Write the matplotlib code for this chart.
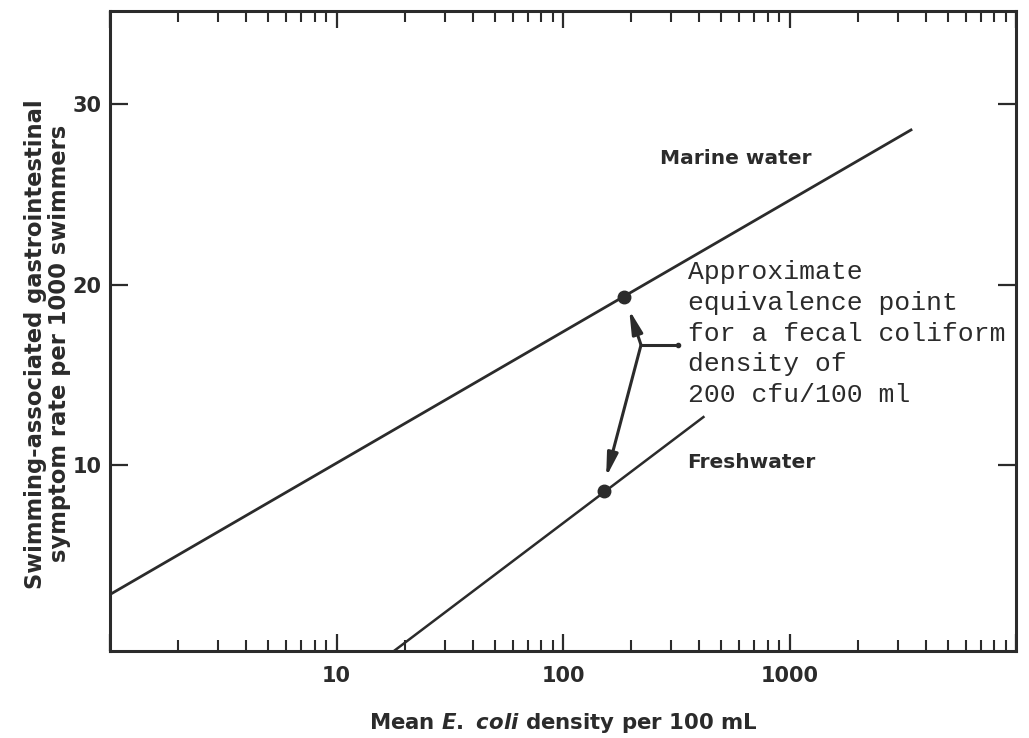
import numpy as np
import matplotlib.pyplot as plt
from matplotlib.ticker import LogLocator, NullFormatter, FixedLocator

# lines (E. coli per 100 mL, symptoms per 1000 swimmers)
marine_x = [1.0, 3480.0]
marine_y = [2.83, 28.6]
fresh_x = [17.8, 421.0]
fresh_y = [-0.33, 12.7]

# equivalence points (marine, fresh)
point_x = [185.0, 151.0]
point_y = [19.3, 8.55]

# bracket of the arrow: junction, tail end, up tip, down tip
junction = (221.0, 16.65)
tail_end = (323.0, 16.65)
up_tip = (196.0, 18.6)
down_tip = (155.0, 9.33)

y_ticks = [10, 20, 30]
x_tick_labels = {10: '10', 100: '100', 1000: '1000'}

ink = '#2b2b2b'
sans = 'DejaVu Sans'
mono = 'Liberation Mono'

plt.rcParams['mathtext.fontset'] = 'custom'
plt.rcParams['mathtext.it'] = 'DejaVu Sans:bold:italic'
plt.rcParams['mathtext.rm'] = 'DejaVu Sans:bold'

fig = plt.figure(figsize=(10.29, 7.38), dpi=100)
ax = fig.add_axes([0.1069, 0.1179, 0.8805, 0.8672])

ax.plot(marine_x, marine_y, color=ink, lw=2.0, solid_capstyle='butt')
ax.plot(fresh_x, fresh_y, color=ink, lw=1.8, solid_capstyle='butt')
ax.plot(point_x, point_y, 'o', color=ink, ms=9, zorder=5)

# bracket with two arrows
ax.plot([junction[0], tail_end[0]], [junction[1], tail_end[1]], color=ink, lw=2.2)
ax.plot([tail_end[0]], [tail_end[1]], 'o', color=ink, ms=3)
for tip in (up_tip, down_tip):
    ax.annotate('', xy=tip, xytext=junction,
                arrowprops=dict(arrowstyle='-|>,head_length=0.7,head_width=0.16',
                                color=ink, lw=2.2, mutation_scale=20,
                                shrinkA=0, shrinkB=0))

ax.set_xscale('log')
ax.set_xlim(1, 10000)
ax.set_ylim(-0.3, 35.15)

ax.xaxis.set_major_locator(FixedLocator(list(x_tick_labels.keys()) + [1, 10000]))
ax.xaxis.set_minor_locator(LogLocator(base=10, subs=np.arange(2, 10)))
ax.xaxis.set_minor_formatter(NullFormatter())
ax.set_xticklabels([x_tick_labels.get(v, '') for v in ax.get_xticks()])
ax.set_yticks(y_ticks)

ax.tick_params(axis='x', which='major', direction='in', length=12, width=1.6,
               top=True, bottom=True, pad=11, labelsize=15, labelcolor=ink, color=ink)
ax.tick_params(axis='x', which='minor', direction='in', length=8, width=1.5,
               top=True, bottom=True, color=ink)
ax.tick_params(axis='y', which='major', direction='in', length=13, width=1.6,
               left=True, right=True, pad=6, labelsize=15, labelcolor=ink, color=ink)
for lbl in ax.get_xticklabels() + ax.get_yticklabels():
    lbl.set_fontweight('bold')
    lbl.set_family(sans)

for sp in ax.spines.values():
    sp.set_linewidth(2.2)
    sp.set_color(ink)

ax.set_xlabel(r'Mean $\it{E.}$ $\it{coli}$ density per 100 mL', fontsize=15.3,
              fontweight='bold', family=sans, color=ink, labelpad=18)
ax.set_ylabel('Swimming-associated gastrointestinal\nsymptom rate per 1000 swimmers',
              fontsize=16.3, fontweight='bold', family=sans, color=ink,
              linespacing=1.05)
ax.yaxis.set_label_coords(-0.043, 0.48)

ax.text(0.607, 0.770, 'Marine water', transform=ax.transAxes, fontsize=14.5,
        fontweight='bold', family=sans, color=ink, va='center', ha='left')
ax.text(0.637, 0.294, 'Freshwater', transform=ax.transAxes, fontsize=14.5,
        fontweight='bold', family=sans, color=ink, va='center', ha='left')
ax.text(0.638, 0.611,
        'Approximate\nequivalence point\nfor a fecal coliform\ndensity of\n200 cfu/100 ml',
        transform=ax.transAxes, fontsize=19, family=mono, color=ink,
        va='top', ha='left', linespacing=1.36)

fig.savefig('out.png', dpi=100)
